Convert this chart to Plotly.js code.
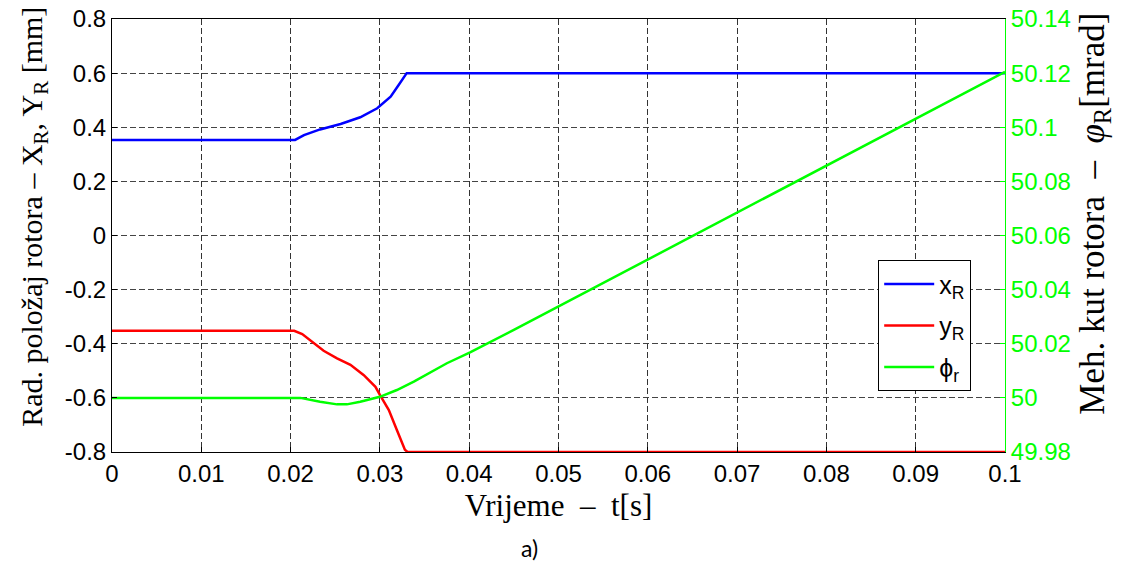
<!DOCTYPE html>
<html>
<head>
<meta charset="utf-8">
<script src="https://cdn.plot.ly/plotly-3.0.1.min.js"></script>
<style>html,body{margin:0;padding:0;background:#fff;}#chart{width:1121px;height:568px;}</style>
</head>
<body>
<div id="chart"></div>
<script>
// Time samples [s] and series values
const tX  = [0, 0.0205, 0.0215, 0.0233, 0.0256, 0.0278, 0.0297, 0.0312, 0.0321, 0.0330, 0.1];
const xR  = [0.353, 0.353, 0.371, 0.392, 0.412, 0.437, 0.470, 0.513, 0.556, 0.600, 0.600];

const tY  = [0, 0.0204, 0.0213, 0.0226, 0.0237, 0.0252, 0.0267, 0.0282, 0.0295, 0.0300, 0.0310, 0.0319, 0.0328, 0.0331, 0.1];
const yR  = [-0.352, -0.352, -0.364, -0.399, -0.426, -0.454, -0.478, -0.516, -0.559, -0.589, -0.645, -0.719, -0.792, -0.800, -0.800];

const tPhi = [0, 0.0211, 0.0233, 0.0252, 0.0263, 0.0278, 0.0300, 0.0319, 0.0338, 0.0375, 0.0401, 0.0450, 0.1];
const phiR = [50.0, 50.0, 49.9986, 49.9976, 49.9976, 49.9986, 50.0004, 50.0029, 50.006, 50.0128, 50.0168, 50.0251, 50.1205];

const xTickVals = [0, 0.01, 0.02, 0.03, 0.04, 0.05, 0.06, 0.07, 0.08, 0.09, 0.1];
const xTickText = ['0', '0.01', '0.02', '0.03', '0.04', '0.05', '0.06', '0.07', '0.08', '0.09', '0.1'];
const yTickVals = [-0.8, -0.6, -0.4, -0.2, 0, 0.2, 0.4, 0.6, 0.8];
const yTickText = ['-0.8', '-0.6', '-0.4', '-0.2', '0', '0.2', '0.4', '0.6', '0.8'];
const y2TickVals = [49.98, 50.0, 50.02, 50.04, 50.06, 50.08, 50.1, 50.12, 50.14];
const y2TickText = ['49.98', '50', '50.02', '50.04', '50.06', '50.08', '50.1', '50.12', '50.14'];

const seriesNames = ['x<sub>R</sub>', 'y<sub>R</sub>', 'ϕ<sub>r</sub>'];

const sans = 'Liberation Sans, Arial, sans-serif';
const serif = 'Liberation Serif, Times New Roman, serif';
const green = '#00ff00';
const gridDash = '6px,3px';
// leading spacer (zero-width char keeps the non-breaking spaces from being trimmed)
const pad = n => '\u200b' + '\u00a0'.repeat(n);

const data = [
  {x: tX, y: xR, name: seriesNames[0], mode: 'lines', line: {color: '#0000ff', width: 2.5}, legendgroup: 'a'},
  {x: tY, y: yR, name: seriesNames[1], mode: 'lines', line: {color: '#ff0000', width: 2.5}, legendgroup: 'b'},
  {x: tPhi, y: phiR, name: seriesNames[2], mode: 'lines', yaxis: 'y2', line: {color: green, width: 2.5}, legendgroup: 'c'}
];

const layout = {
  width: 1121, height: 568,
  margin: {l: 112, r: 116, t: 19, b: 116},
  paper_bgcolor: '#fff', plot_bgcolor: '#fff',
  font: {family: sans, size: 22, color: '#000'},
  showlegend: true,
  legend: {
    x: 0.858, y: 0.443, xanchor: 'left', yanchor: 'top',
    bgcolor: '#fff', bordercolor: '#000', borderwidth: 1,
    font: {family: sans, size: 25, color: '#000'},
    tracegroupgap: 6, entrywidth: 92, itemwidth: 50
  },
  xaxis: {
    range: [0, 0.1], tickvals: xTickVals, ticktext: xTickText,
    showline: true, linecolor: '#000', linewidth: 1, mirror: true,
    ticks: 'inside', ticklen: 5, tickcolor: '#000',
    showgrid: true, gridcolor: '#333', griddash: gridDash, gridwidth: 1,
    zeroline: false,
    tickfont: {family: sans, size: 24, color: '#000'},
    title: {text: 'Vrijeme  –  t[s]', font: {family: serif, size: 31, color: '#000'}, standoff: 8}
  },
  yaxis: {
    range: [-0.8, 0.8], tickvals: yTickVals, ticktext: yTickText,
    showline: true, linecolor: '#000', linewidth: 1,
    ticks: 'inside', ticklen: 5, tickcolor: '#000',
    showgrid: true, gridcolor: '#444', griddash: gridDash, gridwidth: 1,
    zeroline: false,
    tickfont: {family: sans, size: 24, color: '#000'},
    title: {text: pad(5) + 'Rad. položaj rotora – X<sub>R</sub>, Y<sub>R</sub> [mm]', font: {family: serif, size: 30, color: '#000'}}
  },
  yaxis2: {
    overlaying: 'y', side: 'right',
    range: [49.98, 50.14], tickvals: y2TickVals, ticktext: y2TickText,
    showline: true, linecolor: green, linewidth: 1,
    ticks: 'inside', ticklen: 5, tickcolor: green,
    showgrid: false, zeroline: false,
    tickfont: {family: sans, size: 24, color: green},
    title: {text: pad(5) + 'Meh. kut rotora  –  <i>φ</i><sub>R</sub>[mrad]', font: {family: serif, size: 35, color: '#000'}}
  },
  annotations: [
    {text: 'a)', xref: 'paper', yref: 'paper', x: 0.468, y: -0.222, xanchor: 'center', yanchor: 'middle',
     showarrow: false, font: {family: 'Lato, Open Sans, sans-serif', size: 23, color: '#000'}}
  ]
};

Plotly.newPlot('chart', data, layout, {displayModeBar: false, staticPlot: true});
</script>
</body>
</html>
